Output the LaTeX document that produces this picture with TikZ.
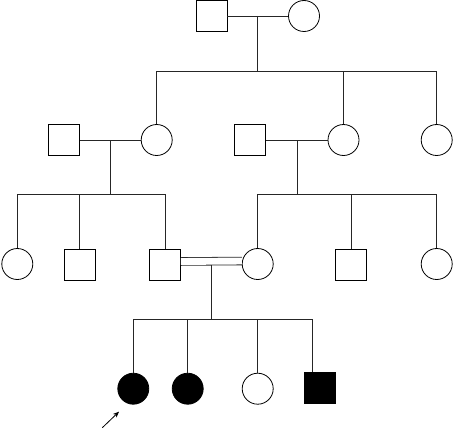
\documentclass[tikz,border=0pt]{standalone}
\usepackage{xcolor}
\usepackage{tikz}
\usetikzlibrary{
  shapes.geometric,
  arrows.meta,
  calc
}
\tikzset{
  male/.style={
    rectangle,draw=black,fill=white,
    minimum size=31pt,inner sep=0pt,line width=0.8pt
  },
  female/.style={
    circle,draw=black,fill=white,
    minimum size=31pt,inner sep=0pt,line width=0.8pt
  },
  affected/.style={fill=black},
  line/.style={-,draw=black!85,line width=0.8pt},
  consang/.style={line,double,double distance=6.9pt},
  proband/.style={-{Stealth[length=6pt,width=5pt]},line width=0.8pt,color=black}
}

\begin{document}
\begin{tikzpicture}[x=1pt,y=-1pt]

\useasboundingbox (0,0) rectangle (454,428);

%% ── Generation I ─────────────────────────────────────────
\node[male]   (f1) at (211.5,16) {};
\node[female] (m1) at (304,16) {};

%% ── Generation II ────────────────────────────────────────
\node[male]   (s2a) at (64,140) {};
\node[female] (c2a) at (156.7,140) {};
\node[male]   (s2b) at (250.3,140) {};
\node[female] (c2b) at (343.5,140) {};
\node[female] (c2c) at (436.7,140) {};

%% ── Generation III ───────────────────────────────────────
\node[female] (c3a) at (17.3,264) {};
\node[male]   (s3a) at (79.8,264.5) {};
\node[male]   (s3b) at (165,264.5) {};
\node[female] (c3b) at (257.7,264) {};
\node[male]   (s3c) at (351.3,264.5) {};
\node[female] (c3c) at (436.7,264) {};

%% ── Generation IV ────────────────────────────────────────
\node[female,affected] (k1) at (133.3,388.7) {};
\node[female,affected] (k2) at (187.7,388.7) {};
\node[female]          (k3) at (257.7,388.7) {};
\node[male,affected]   (k4) at (320,388.3) {};

%% ── Sibship levels ───────────────────────────────────────
\coordinate (rowII)  at (0,71);
\coordinate (rowIII) at (0,194.7);
\coordinate (rowIV)  at (0,319);

%% ── Matings and descent ──────────────────────────────────
\draw[line] (f1) -- (m1);
\coordinate (mI) at ($(f1.east)!0.5!(m1.west)$);
\draw[line] (mI) -- (mI |- rowII);
\draw[line] (c2a.north) -- (c2a |- rowII) -- (c2c |- rowII) -- (c2c.north);
\draw[line] (c2b.north) -- (c2b |- rowII);

\draw[line] (s2a) -- (c2a);
\coordinate (mIIa) at ($(s2a.east)!0.5!(c2a.west)$);
\draw[line] (mIIa) -- (mIIa |- rowIII);
\draw[line] (c3a.north) -- (c3a |- rowIII) -- (s3b |- rowIII) -- (s3b.north);
\draw[line] (s3a.north) -- (s3a |- rowIII);

\draw[line] (s2b) -- (c2b);
\coordinate (mIIb) at ($(s2b.east)!0.5!(c2b.west)$);
\draw[line] (mIIb) -- (mIIb |- rowIII);
\draw[line] (c3b.north) -- (c3b |- rowIII) -- (c3c |- rowIII) -- (c3c.north);
\draw[line] (s3c.north) -- (s3c |- rowIII);

%% ── Consanguineous mating ────────────────────────────────
\coordinate (mIII) at ($(s3b.east)!0.5!(c3b.west)$);
\draw[line] (mIII) -- (mIII |- rowIV);
\draw[consang] ([yshift=3pt]s3b.east) -- ([yshift=3pt]c3b.west);
\coordinate (k4top) at ($(k4.north)+(-7.7,0)$);
\draw[line] (k1.north) -- (k1 |- rowIV) -- (k4top |- rowIV) -- (k4top);
\draw[line] (k2.north) -- (k2 |- rowIV);
\draw[line] (k3.north) -- (k3 |- rowIV);

%% ── Proband ──────────────────────────────────────────────
\coordinate (ptail) at (102.3,427.7);
\coordinate (phead) at (119,411.7);
\draw[proband] (ptail) -- (phead);

\end{tikzpicture}
\end{document}
